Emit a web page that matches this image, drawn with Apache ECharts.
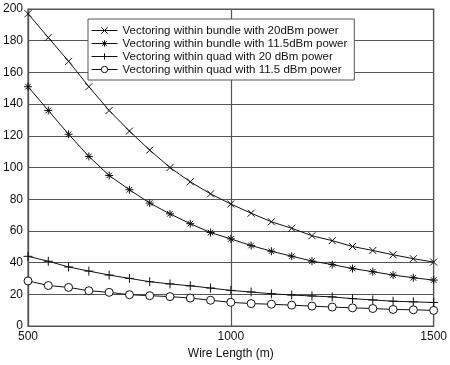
<!DOCTYPE html>
<html><head><meta charset="utf-8">
<script src="https://cdn.jsdelivr.net/npm/echarts@6/dist/echarts.min.js"></script>
<style>html,body{margin:0;padding:0;background:#fff}#c{width:450px;height:365px}</style>
</head><body><div id="c"></div>
<script>
const wireLength = [500,550,600,650,700,750,800,850,900,950,1000,1050,1100,1150,1200,1250,1300,1350,1400,1450,1500];
const bundle20 = [197,182,167,151,136,123,111,100,91,83.4,77,71.2,65.8,61.7,57,53.9,50.2,47.7,45,42.5,40.4];
const bundle115 = [151,136,121,107,95,86,77.6,70.8,64.6,59,55,50.8,47.2,44.1,41,38.8,36.3,34.3,32.2,30.5,29];
const quad20 = [44,40.9,37.3,34.7,32.2,30.1,28,26.6,25.4,24,22.5,21.5,20.4,19.6,19,18.4,17.3,16.5,15.7,15.3,14.9];
const quad115 = [28.5,25.6,24.4,22.3,21.3,19.8,19.2,18.6,17.7,16.3,15,14.2,13.8,13.2,12.6,12,11.5,11.1,10.5,10.3,9.9];
const seriesNames = [
  'Vectoring within bundle with 20dBm power',
  'Vectoring within bundle with 11.5dBm power',
  'Vectoring within quad with 20 dBm power',
  'Vectoring within quad with 11.5 dBm power'
];
const xTicks = {min:500, max:1500, interval:500};
const yTicks = {min:0, max:200, interval:20};

const symX = 'path://M0,0L10,10M10,0L0,10';
const symAst = 'path://M5,0L5,10M0,5L10,5M1.5,1.5L8.5,8.5M8.5,1.5L1.5,8.5';
const symPlus = 'path://M5,0L5,10M0,5L10,5';

function pairs(ys){ return wireLength.map((x,i)=>[x, ys[i]]); }
function mk(name, ys, symbol, size){
  return {
    name, type:'line', data:pairs(ys), symbol, symbolSize:size, showAllSymbol:true,
    lineStyle:{color:'#111', width:1},
    itemStyle:{color:'#fff', borderColor:'#111', borderWidth:1},
    emphasis:{disabled:true}, animation:false
  };
}
const chart = echarts.init(document.getElementById('c'), null, {renderer:'canvas'});
const font = 'Liberation Sans, Arial, Helvetica, sans-serif';
chart.setOption({
  animation:false,
  backgroundColor:'#fff',
  textStyle:{fontFamily:font},
  grid:{left:27, right:13, top:9, bottom:33, show:true, borderColor:'#555', borderWidth:1.2, backgroundColor:'transparent'},
  legend:{
    orient:'vertical', left:88, top:19, padding:[5,7,4,3],
    backgroundColor:'#fff', borderColor:'#555', borderWidth:1, borderRadius:0,
    itemWidth:26, itemHeight:8, itemGap:0,
    itemStyle:{borderWidth:1},
    lineStyle:{width:1},
    textStyle:{fontSize:11.5, color:'#111', fontFamily:font, lineHeight:13},
    data: seriesNames
  },
  xAxis:{
    type:'value', min:xTicks.min, max:xTicks.max, interval:xTicks.interval,
    name:'Wire Length (m)', nameLocation:'middle', nameGap:18,
    nameTextStyle:{fontSize:12, color:'#111', fontFamily:font},
    axisLine:{show:true, lineStyle:{color:'#555', width:1.2}},
    axisTick:{show:false},
    axisLabel:{fontSize:12, color:'#111', margin:5, fontFamily:font, formatter:v=>String(v)},
    splitLine:{show:true, lineStyle:{color:'#555', width:1.2}}
  },
  yAxis:{
    type:'value', min:yTicks.min, max:yTicks.max, interval:yTicks.interval,
    axisLine:{show:true, lineStyle:{color:'#555', width:1.2}},
    axisTick:{show:false},
    axisLabel:{fontSize:12, color:'#111', margin:5, fontFamily:font, formatter:v=>String(v)},
    splitLine:{show:true, lineStyle:{color:'#555', width:1.2}}
  },
  series:[
    mk(seriesNames[0], bundle20, symX, 7),
    mk(seriesNames[1], bundle115, symAst, 8),
    mk(seriesNames[2], quad20, symPlus, 9),
    mk(seriesNames[3], quad115, 'circle', 8)
  ]
});
</script></body></html>
